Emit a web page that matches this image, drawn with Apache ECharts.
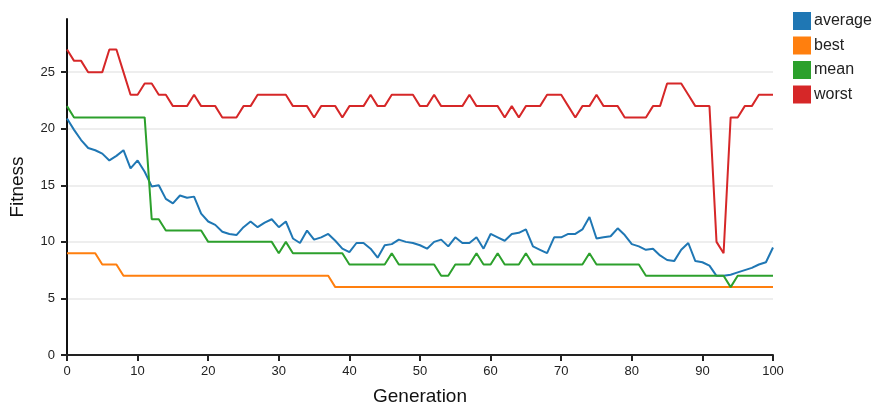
<!DOCTYPE html>
<html>
<head>
<meta charset="utf-8">
<script src="https://cdn.jsdelivr.net/npm/echarts@6/dist/echarts.min.js"></script>
<style>
  html, body { margin: 0; padding: 0; background: #fff; }
  #chart { width: 872px; height: 405px; }
</style>
</head>
<body>
<div id="chart"></div>
<script>
// fitness per generation, index = generation (0..100)
const average = [
  20.9, 19.9, 19.0, 18.3, 18.1, 17.8, 17.2, 17.6, 18.1, 16.5,
  17.2, 16.2, 14.9, 15.0, 13.8, 13.4, 14.1, 13.9, 14.0, 12.5,
  11.8, 11.5, 10.9, 10.7, 10.6, 11.3, 11.8, 11.3, 11.7, 12.0,
  11.3, 11.8, 10.3, 9.9, 11.0, 10.2, 10.4, 10.7, 10.1, 9.4,
  9.1, 9.9, 9.9, 9.4, 8.6, 9.7, 9.8, 10.2, 10.0, 9.9,
  9.7, 9.4, 10.0, 10.2, 9.6, 10.4, 9.9, 9.9, 10.4, 9.4,
  10.7, 10.4, 10.1, 10.7, 10.8, 11.1, 9.6, 9.3, 9.0, 10.4,
  10.4, 10.7, 10.7, 11.1, 12.2, 10.3, 10.4, 10.5, 11.2, 10.6,
  9.8, 9.6, 9.3, 9.4, 8.8, 8.4, 8.3, 9.3, 9.9, 8.3,
  8.2, 7.9, 7.0, 7.0, 7.1, 7.3, 7.5, 7.7, 8.0, 8.2,
  9.5
];
const best = [
  9, 9, 9, 9, 9, 8, 8, 8, 7, 7,
  7, 7, 7, 7, 7, 7, 7, 7, 7, 7,
  7, 7, 7, 7, 7, 7, 7, 7, 7, 7,
  7, 7, 7, 7, 7, 7, 7, 7, 6, 6,
  6, 6, 6, 6, 6, 6, 6, 6, 6, 6,
  6, 6, 6, 6, 6, 6, 6, 6, 6, 6,
  6, 6, 6, 6, 6, 6, 6, 6, 6, 6,
  6, 6, 6, 6, 6, 6, 6, 6, 6, 6,
  6, 6, 6, 6, 6, 6, 6, 6, 6, 6,
  6, 6, 6, 6, 6, 6, 6, 6, 6, 6,
  6
];
const mean = [
  22, 21, 21, 21, 21, 21, 21, 21, 21, 21,
  21, 21, 12, 12, 11, 11, 11, 11, 11, 11,
  10, 10, 10, 10, 10, 10, 10, 10, 10, 10,
  9, 10, 9, 9, 9, 9, 9, 9, 9, 9,
  8, 8, 8, 8, 8, 8, 9, 8, 8, 8,
  8, 8, 8, 7, 7, 8, 8, 8, 9, 8,
  8, 9, 8, 8, 8, 9, 8, 8, 8, 8,
  8, 8, 8, 8, 9, 8, 8, 8, 8, 8,
  8, 8, 7, 7, 7, 7, 7, 7, 7, 7,
  7, 7, 7, 7, 6, 7, 7, 7, 7, 7,
  7
];
const worst = [
  27, 26, 26, 25, 25, 25, 27, 27, 25, 23,
  23, 24, 24, 23, 23, 22, 22, 22, 23, 22,
  22, 22, 21, 21, 21, 22, 22, 23, 23, 23,
  23, 23, 22, 22, 22, 21, 22, 22, 22, 21,
  22, 22, 22, 23, 22, 22, 23, 23, 23, 23,
  22, 22, 23, 22, 22, 22, 22, 23, 22, 22,
  22, 22, 21, 22, 21, 22, 22, 22, 23, 23,
  23, 22, 21, 22, 22, 23, 22, 22, 22, 21,
  21, 21, 21, 22, 22, 24, 24, 24, 23, 22,
  22, 22, 10, 9, 21, 21, 22, 22, 23, 23,
  23
];
const seriesNames = ["average", "best", "mean", "worst"];
const colors = ["#1f77b4", "#ff7f0e", "#2ca02c", "#d62728"];

const chart = echarts.init(document.getElementById("chart"));
const font = "Liberation Sans, Arial, sans-serif";

const toPoints = (arr) => arr.map((v, i) => [i, v]);

const option = {
  animation: false,
  color: colors,
  textStyle: { fontFamily: font },
  grid: { left: 67, right: 99, top: 19, bottom: 50, outerBoundsMode: "none", containLabel: false },
  legend: {
    orient: "vertical",
    left: 793,
    top: 12,
    padding: 0,
    icon: "rect",
    itemWidth: 18,
    itemHeight: 18,
    itemGap: 6.5,
    textStyle: { fontSize: 16, color: "#222", fontFamily: font, padding: [0, 0, 0, -2] },
    data: seriesNames,
  },
  xAxis: {
    type: "value",
    min: 0,
    max: 100,
    interval: 10,
    name: "Generation",
    nameLocation: "middle",
    nameGap: 32,
    nameTextStyle: { fontSize: 19, color: "#111" },
    axisLine: { lineStyle: { color: "#222", width: 2 } },
    axisTick: { length: 6, lineStyle: { color: "#222", width: 2 } },
    axisLabel: { fontSize: 13, color: "#222", margin: 10 },
    splitLine: { show: false },
  },
  yAxis: {
    type: "value",
    min: 0,
    max: 29.7,
    interval: 5,
    name: "Fitness",
    nameLocation: "middle",
    nameGap: 40,
    nameTextStyle: { fontSize: 19, color: "#111" },
    axisLine: { show: true, lineStyle: { color: "#111", width: 2 } },
    axisTick: { show: true, length: 6, lineStyle: { color: "#222", width: 2 } },
    axisLabel: { fontSize: 13, color: "#222", margin: 12, showMaxLabel: false },
    splitLine: {
      show: true,
      showMinLine: false,
      showMaxLine: false,
      lineStyle: { color: "#eeeeee", width: 2 },
    },
  },
  series: [average, best, mean, worst].map((arr, k) => ({
    name: seriesNames[k],
    type: "line",
    data: toPoints(arr),
    showSymbol: false,
    symbol: "none",
    lineStyle: { width: 2 },
  })),
};

chart.setOption(option);
</script>
</body>
</html>
